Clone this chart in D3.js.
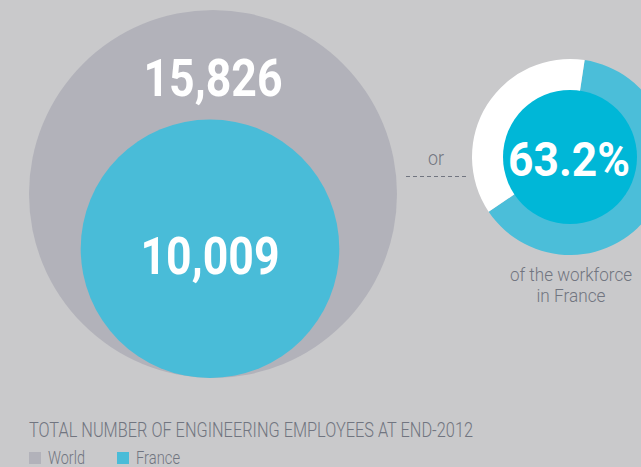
<!DOCTYPE html>
<html>
<head>
<meta charset="utf-8">
<script src="https://cdn.jsdelivr.net/npm/d3@7"></script>
<style>
  html, body { margin: 0; padding: 0; background: #c9c9cb; }
  svg { display: block; }
</style>
</head>
<body>
<div id="chart"></div>
<script>
// data
var categories = ['World', 'France'];
var employees = [15826, 10009];
var shareLabels = ['France', 'Other'];
var shareValues = [63.2, 36.8];
var title = 'TOTAL NUMBER OF ENGINEERING EMPLOYEES AT END-2012';

var W = 641, H = 467;
var colors = { World: '#b2b2ba', France: '#49bcd8' };
var textGray = '#717580';
var font = 'Roboto, "Liberation Sans", sans-serif';

var svg = d3.select('#chart').append('svg')
    .attr('width', W)
    .attr('height', H);

svg.append('rect').attr('width', W).attr('height', H).attr('fill', '#c9c9cb');

// squeezed text helper (the original uses a condensed face)
function label(sel, x, y, txt, size, len, opts){
    opts = opts || {};
    var t = sel.append('text')
        .attr('x', x).attr('y', y)
        .attr('text-anchor', opts.anchor || 'middle')
        .attr('fill', opts.fill || textGray)
        .attr('font-family', font)
        .attr('font-weight', opts.weight || 300)
        .attr('font-size', size)
        .text(txt);
    if(len) t.attr('textLength', len).attr('lengthAdjust', 'spacingAndGlyphs');
    return t;
}

// bubbles, bottom-aligned
var r = d3.scalePow().exponent(0.77).domain([0, d3.max(employees)]).range([0, 184]);
var baseY = 378;
var cxs = { World: 213, France: 210 };
var labelY = { World: 96, France: 274 };
var fmt = d3.format(',');

var data = categories.map(function(c, i){ return { cat: c, val: employees[i] }; });

svg.selectAll('circle.bubble')
    .data(data)
    .enter().append('circle')
    .attr('class', 'bubble')
    .attr('cx', function(d){ return cxs[d.cat]; })
    .attr('cy', function(d){ return baseY - r(d.val); })
    .attr('r', function(d){ return r(d.val); })
    .attr('fill', function(d){ return colors[d.cat]; });

data.forEach(function(d){
    label(svg, cxs[d.cat], labelY[d.cat], fmt(d.val), 52, 139, { fill: '#fff', weight: 'bold' });
});

// "or" + dashed line
label(svg, 436, 165, 'or', 20, 16);
svg.append('line')
    .attr('x1', 406).attr('x2', 466)
    .attr('y1', 176.5).attr('y2', 176.5)
    .attr('stroke', textGray)
    .attr('stroke-width', 1)
    .attr('stroke-dasharray', '4,3');

// donut
var dcx = 570, dcy = 157, rOut = 98, rIn = 67;
var a0 = 0.15;
var pie = d3.pie().sort(null).startAngle(a0).endAngle(a0 + 2 * Math.PI);
var arc = d3.arc().innerRadius(rIn - 1).outerRadius(rOut);
var donut = svg.append('g').attr('transform', 'translate(' + dcx + ',' + dcy + ')');
donut.selectAll('path')
    .data(pie(shareValues))
    .enter().append('path')
    .attr('d', arc)
    .attr('fill', function(d, i){ return i === 0 ? '#4bbed9' : '#ffffff'; });
donut.append('circle').attr('r', rIn).attr('fill', '#00b7d7');
label(donut, -1, 19, shareValues[0] + '%', 48, 122, { fill: '#fff', weight: 'bold' });

label(svg, 571, 281, 'of the workforce', 19, 122);
label(svg, 571, 302, 'in ' + shareLabels[0], 19, 69);

// title + legend
label(svg, 29, 437, title, 19.5, 444, { anchor: 'start' });

var legX = { World: 29, France: 117 };
var legW = { World: 37, France: 44 };
var leg = svg.selectAll('g.leg')
    .data(categories)
    .enter().append('g').attr('class', 'leg')
    .attr('transform', function(d){ return 'translate(' + legX[d] + ',452)'; });
leg.append('rect')
    .attr('width', 12).attr('height', 12)
    .attr('fill', function(d){ return colors[d]; });
leg.each(function(d){
    label(d3.select(this), 19, 11.5, d, 18, legW[d], { anchor: 'start' });
});
</script>
</body>
</html>
